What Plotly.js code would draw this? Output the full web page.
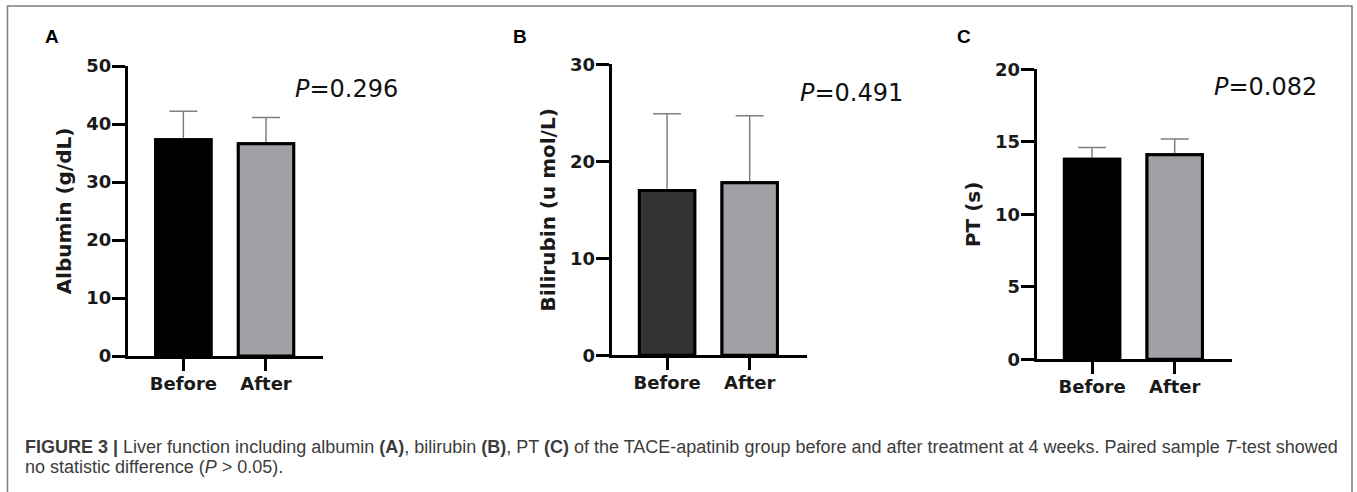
<!DOCTYPE html>
<html>
<head>
<meta charset="utf-8">
<script src="https://cdn.plot.ly/plotly-3.0.1.min.js"></script>
<style>
html,body{margin:0;padding:0;background:#fff;overflow:hidden}
#chart{width:1357px;height:492px}
</style>
</head>
<body>
<div id="chart"></div>
<script>
// ---------------- data ----------------
const groups = ['Before', 'After'];

const albuminMean = [37.3, 36.6];
const albuminSD = [4.9, 4.5];

const bilirubinMean = [17.0, 17.8];
const bilirubinSD = [7.9, 6.9];

const ptMean = [13.8, 14.1];
const ptSD = [0.8, 1.1];

const pValues = ['0.296', '0.491', '0.082'];
const panelLetters = ['A', 'B', 'C'];
const yTitles = ['Albumin (g/dL)', 'Bilirubin (u mol/L)', 'PT (s)'];
const yMax = [50, 30, 20];
const yStep = [10, 10, 5];

const captionLine1 = [
  ['FIGURE 3 |', true, false],
  [' Liver function including albumin ', false, false],
  ['(A)', true, false],
  [', bilirubin ', false, false],
  ['(B)', true, false],
  [', PT ', false, false],
  ['(C)', true, false],
  [' of the TACE-apatinib group before and after treatment at 4 weeks. Paired sample ', false, false],
  ['T', false, true],
  ['-test showed', false, false]
];
const captionLine2 = [
  ['no statistic difference (', false, false],
  ['P', false, true],
  [' > 0.05).', false, false]
];

// ---------------- layout helpers ----------------
const W = 1357, H = 492;
const px = x => x / W;
const py = y => 1 - y / H;

const geom = [
  {xd: [128, 323], yd: [66, 356], colors: ['#000000', '#a1a1a5'], p: [292.7, 89], lab: 43},
  {xd: [611.7, 806.7], yd: [64.3, 355.3], colors: ['#333333', '#a1a1a5'], p: [798, 93], lab: 511},
  {xd: [1036.7, 1231.7], yd: [69.3, 359.3], colors: ['#000000', '#a1a1a5'], p: [1211.7, 87.3], lab: 955}
];
const means = [albuminMean, bilirubinMean, ptMean];
const sds = [albuminSD, bilirubinSD, ptSD];

const tickFont = {family: 'DejaVu Sans', size: 18, weight: 'bold', color: '#1a1a1a'};
const titleFont = {family: 'DejaVu Sans', size: 20, weight: 'bold', color: '#1a1a1a'};

const traces = [];
const layout = {
  width: W, height: H,
  margin: {l: 0, r: 0, t: 0, b: 0},
  paper_bgcolor: '#ffffff',
  plot_bgcolor: '#ffffff',
  showlegend: false,
  barmode: 'overlay',
  annotations: [],
  shapes: [{
    type: 'rect', xref: 'paper', yref: 'paper',
    x0: px(7.5), x1: px(1352), y0: py(530), y1: py(6),
    line: {color: '#7d7d7d', width: 1.5}, fillcolor: 'rgba(0,0,0,0)'
  }]
};

for (let i = 0; i < 3; i++) {
  const g = geom[i];
  const sx = i === 0 ? '' : String(i + 1);
  // bars with upper error bars (SD above only)
  traces.push({
    type: 'bar',
    x: groups,
    y: means[i],
    width: 0.67,
    xaxis: 'x' + sx,
    yaxis: 'y' + sx,
    marker: {color: g.colors, line: {color: '#000000', width: 3}},
    error_y: {
      type: 'data', symmetric: false, array: sds[i], arrayminus: [0, 0],
      color: '#808080', thickness: 1.5, width: 14
    },
    hoverinfo: 'skip'
  });
  // same bars drawn again on top so the lower error cap hides under the outline
  traces.push({
    type: 'bar',
    x: groups,
    y: means[i],
    width: 0.67,
    xaxis: 'x' + sx,
    yaxis: 'y' + sx,
    marker: {color: g.colors, line: {color: '#000000', width: 3}},
    hoverinfo: 'skip'
  });
  layout['xaxis' + sx] = {
    domain: [px(g.xd[0]), px(g.xd[1])],
    anchor: 'y' + sx,
    type: 'category',
    categoryorder: 'array',
    categoryarray: groups,
    range: [-0.67, 1.69],
    showline: true, linecolor: '#000000', linewidth: 3,
    ticks: 'outside', ticklen: 12, tickwidth: 3, tickcolor: '#000000',
    ticklabelstandoff: -3,
    tickfont: tickFont,
    showgrid: false, zeroline: false, fixedrange: true
  };
  layout['yaxis' + sx] = {
    domain: [py(g.yd[1]), py(g.yd[0])],
    anchor: 'x' + sx,
    range: [0, yMax[i]],
    dtick: yStep[i], tick0: 0,
    showline: true, linecolor: '#000000', linewidth: 3,
    ticks: 'outside', ticklen: 13, tickwidth: 3, tickcolor: '#000000',
    ticklabelstandoff: -3,
    tickfont: tickFont,
    title: {text: yTitles[i], font: titleFont, standoff: 10},
    showgrid: false, zeroline: false, fixedrange: true
  };
  layout.annotations.push({
    xref: 'paper', yref: 'paper', x: px(g.p[0]), y: py(g.p[1]),
    xanchor: 'left', yanchor: 'middle', showarrow: false,
    text: '<i>P</i>=' + pValues[i],
    font: {family: 'DejaVu Sans', size: 24, color: '#111111'}
  });
  layout.annotations.push({
    xref: 'paper', yref: 'paper', x: px(g.lab), y: py(36.4),
    xanchor: 'left', yanchor: 'middle', showarrow: false,
    text: '<b>' + panelLetters[i] + '</b>',
    font: {family: 'Liberation Sans', size: 19, color: '#000000'}
  });
}

// caption: fit first line to its width in the reference
const capFamily = 'Liberation Sans';
function segWidth(segs, size) {
  const c = document.createElement('canvas').getContext('2d');
  let w = 0;
  for (const [t, b, it] of segs) {
    c.font = (it ? 'italic ' : '') + (b ? 'bold ' : '') + size + 'px "' + capFamily + '"';
    w += c.measureText(t).width;
  }
  return w;
}
const targetW = 1317;
let capSize = 16 * targetW / segWidth(captionLine1, 16);
capSize = Math.max(14, Math.min(18, capSize));
function segHTML(segs) {
  return segs.map(([t, b, it]) => {
    let s = t.replace(/&/g, '&amp;').replace(/</g, '&lt;').replace(/>/g, '&gt;');
    if (b) s = '<b>' + s + '</b>';
    if (it) s = '<i>' + s + '</i>';
    return s;
  }).join('');
}
[[captionLine1, 452.7], [captionLine2, 472.7]].forEach(([segs, base]) => {
  layout.annotations.push({
    xref: 'paper', yref: 'paper', x: px(22.7), y: py(base - 0.34 * capSize),
    xanchor: 'left', yanchor: 'middle', showarrow: false, align: 'left',
    text: segHTML(segs),
    font: {family: capFamily, size: capSize, color: '#3c3c3c'}
  });
});

Plotly.newPlot('chart', traces, layout, {staticPlot: true, displayModeBar: false});
</script>
</body>
</html>
